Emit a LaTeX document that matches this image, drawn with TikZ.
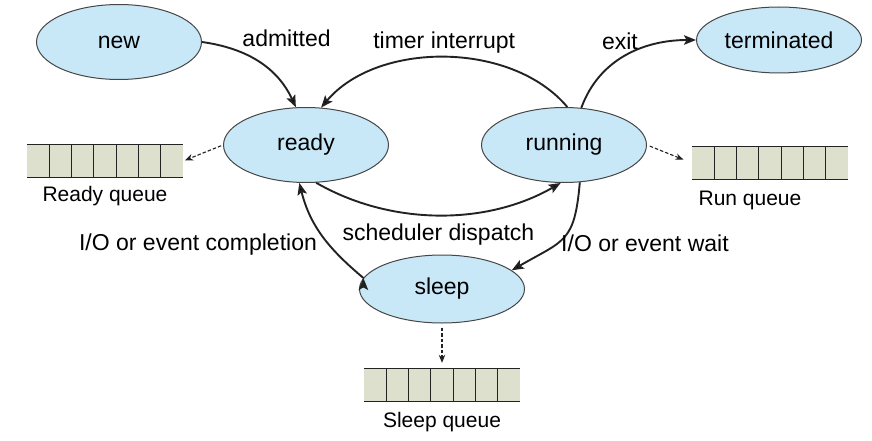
\documentclass[tikz,border=0pt]{standalone}
\usepackage{fontspec}
\setmainfont{Liberation Sans}
\usetikzlibrary{positioning,arrows.meta,calc,shapes.geometric}
\definecolor{statefill}{RGB}{200,232,248}
\definecolor{stateline}{RGB}{70,70,70}
\definecolor{queuefill}{RGB}{221,224,204}
\definecolor{arrowcol}{RGB}{34,34,34}

\begin{document}
\begin{tikzpicture}[on grid,auto,
    proc/.style={ellipse,draw=stateline,line width=1pt,fill=statefill,
        minimum width=165pt,minimum height=75pt,inner sep=0pt,
        font=\fontsize{23}{27}\selectfont},
    queue/.style={rectangle,fill=queuefill,minimum width=156pt,
        minimum height=32pt,inner sep=0pt},
    qlabel/.style={font=\fontsize{21}{25}\selectfont},
    elabel/.style={font=\fontsize{23}{27}\selectfont},
    trans/.style={-{Stealth[length=12pt,width=9.5pt,inset=2.5pt]},
        line width=1.9pt,draw=arrowcol},
    toq/.style={-{Stealth[length=8pt,width=6.5pt]},line width=1.1pt,
        dash pattern=on 3.5pt off 2pt,draw=arrowcol}]
    \useasboundingbox (0,0) rectangle (872pt,440pt);
    % states
    \node[proc] (ready) at (306pt,295pt) {ready};
    \node[proc] (new) [above left=103pt and 187pt of ready] {new};
    \node[proc] (running) [right=258pt of ready] {running};
    \node[proc,minimum height=66pt] (term) [above right=105pt and 215pt of running] {terminated};
    \node[proc,minimum height=68pt] (sleep) [below right=144pt and 136pt of ready] {sleep};
    % queues
    \node[queue] (queue_r) [below left=16pt and 201pt of ready] {};
    \node[queue] (queue_u) [below right=18pt and 206pt of running] {};
    \node[queue] (queue_s) [below=96pt of sleep] {};
    \node[qlabel] (lab_r) [below=35pt of queue_r] {Ready queue};
    \node[qlabel] (lab_u) [below left=37pt and 20pt of queue_u] {Run queue};
    \node[qlabel] (lab_s) [below=37pt of queue_s] {Sleep queue};
    \foreach \q in {queue_r,queue_u,queue_s} {
        \draw[arrowcol,line width=1pt] (\q.north west) -- (\q.north east)
            (\q.south west) -- (\q.south east);
        \foreach \i in {1,...,6}
            \draw[arrowcol,line width=1pt] ($(\q.north west)!\i/7!(\q.north east)$)
                -- ($(\q.south west)!\i/7!(\q.south east)$);
    }
    % transitions
    \path[trans]
    (new.east) edge[out=-8,in=115] node[pos=0.3,above right,elabel] {admitted} (ready.105)
    (running.85) edge[out=130,in=50,looseness=0.9] node[pos=0.5,above,elabel] {timer interrupt} (ready.68)
    (running.65) edge[out=70,in=180] node[pos=0.45,above,elabel,yshift=5pt] {exit} (term.west)
    (ready.-75) edge[out=-30,in=-150,looseness=0.9] node[pos=0.5,below,elabel,yshift=-5pt] {scheduler dispatch} (running.-95)
    (running.-67) edge[out=-95,in=30,looseness=1.4] node[pos=0.6,right,elabel] {I/O or event wait} (sleep.15)
    (sleep.172) edge[out=140,in=-76] node[pos=0.4,left,elabel,xshift=-8pt] {I/O or event completion} (ready.-100);
    \draw[toq,shorten <=2pt,shorten >=2pt] (ready.west) -- (queue_r.east);
    \draw[toq,shorten <=3pt,shorten >=9pt] (running.east) -- (queue_u.west);
    \draw[toq,shorten <=4pt,shorten >=6pt] (sleep.south) -- (queue_s.north);
\end{tikzpicture}
\end{document}
